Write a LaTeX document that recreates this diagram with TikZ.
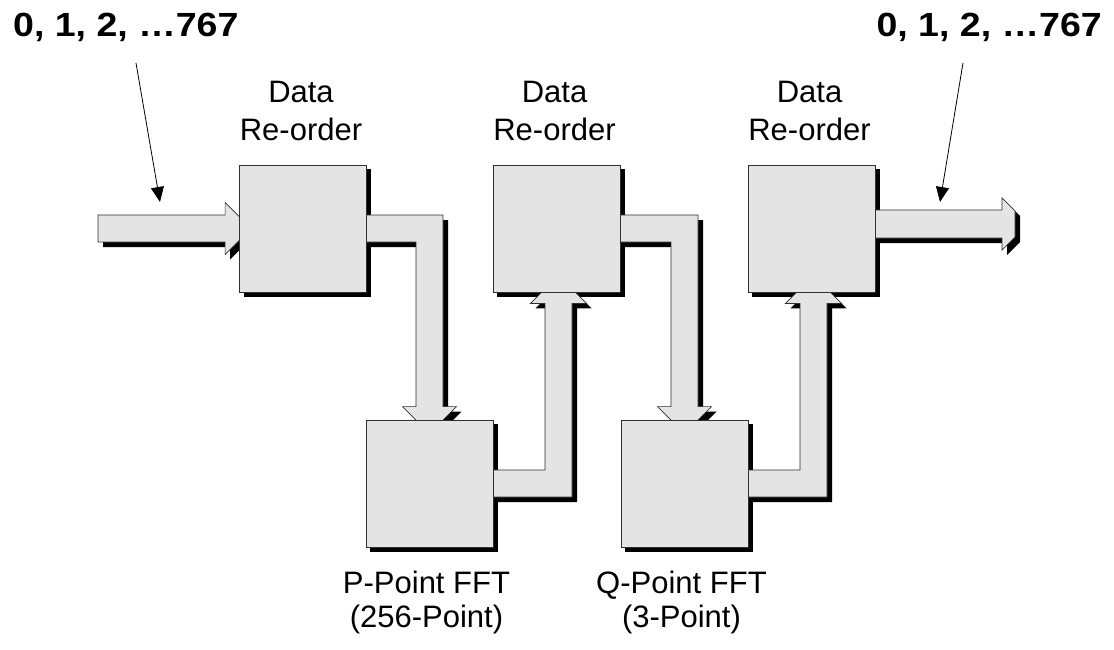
\documentclass[tikz,border=0pt]{standalone}
\usepackage{fontspec}
\setmainfont{Liberation Sans}
\usetikzlibrary{calc,arrows.meta}
\pgfdeclarelayer{shade}
\pgfdeclarelayer{flow}
\pgfsetlayers{shade,flow,main}
\definecolor{blockgray}{HTML}{E4E4E4}
\definecolor{edgegray}{HTML}{303030}

\tikzset{
  stage/.style={draw=edgegray, line width=0.8pt, fill=blockgray,
    minimum width=127pt, minimum height=127pt, inner sep=0pt},
  flowbody/.style={draw=edgegray, line width=0.7pt, fill=blockgray, line join=miter},
  caption/.style={font=\fontsize{31pt}{37pt}\selectfont, inner sep=0pt, anchor=base},
  seqlabel/.style={font=\fontsize{33.5pt}{40pt}\selectfont\bfseries, inner sep=0pt},
  pointer/.style={line width=0.8pt, -{Triangle[length=15pt,width=13pt]}},
}

% block arrow: black drop shadow on the lowest layer, grey body above it
\newcommand\flowarrow[1]{%
  \begin{pgfonlayer}{shade}
    \fill[black, transform canvas={shift={(5pt,-5pt)}}] #1;
  \end{pgfonlayer}
  \begin{pgfonlayer}{flow}
    \filldraw[flowbody] #1;
  \end{pgfonlayer}}
% drop shadow of a stage box
\newcommand\stageshadow[1]{%
  \begin{pgfonlayer}{shade}
    \fill[black, transform canvas={shift={(4.5pt,-4.5pt)}}] (#1.south west) rectangle (#1.north east);
  \end{pgfonlayer}}

\begin{document}
\begin{tikzpicture}[x=1pt, y=-1pt]
\path[use as bounding box] (0,0) rectangle (1114,650);

% processing stages
\node[stage] (b1) at (303,228.5) {};
\node[stage] (b2) at (556.5,228.5) {};
\node[stage] (b3) at (811.5,228.5) {};
\node[stage] (b4) at (429.5,483.5) {};
\node[stage] (b5) at (684.5,483.5) {};
\foreach \b in {b1,b2,b3,b4,b5} {\stageshadow{\b}}

% entry / exit points and the up-going columns
\coordinate (src) at (98,228.5);
\coordinate (dst) at (1015,224);
\coordinate (k2) at ($(b2.south)+(2,0)$);
\coordinate (k3) at ($(b3.south)+(2,0)$);

% input stream into the first re-order stage
\flowarrow{($(src)+(0,-13.5)$) -- ($(b1.west)+(-14,-13.5)$) -- ($(b1.west)+(-14,-26)$)
  -- ($(b1.west)+(12,0)$) -- ($(b1.west)+(-14,26)$) -- ($(b1.west)+(-14,13.5)$)
  -- ($(src)+(0,13.5)$) -- cycle}

% re-order -> P-point FFT
\flowarrow{($(b1.east)+(-2,-13.5)$) -- ($(b1.east -| b4.north)+(13.5,-13.5)$)
  -- ($(b4.north)+(13.5,-13)$) -- ($(b4.north)+(27,-13)$) -- ($(b4.north)+(0,14)$)
  -- ($(b4.north)+(-27,-13)$) -- ($(b4.north)+(-13.5,-13)$)
  -- ($(b1.east -| b4.north)+(-13.5,13.5)$) -- ($(b1.east)+(-2,13.5)$) -- cycle}

% P-point FFT -> re-order
\flowarrow{($(b4.east)+(-2,-13.5)$) -- ($(b4.east -| k2)+(-13.5,-13.5)$)
  -- ($(k2)+(-13.5,11)$) -- ($(k2)+(-28,11)$) -- ($(k2)+(0,-17)$)
  -- ($(k2)+(28,11)$) -- ($(k2)+(13.5,11)$)
  -- ($(b4.east -| k2)+(13.5,13.5)$) -- ($(b4.east)+(-2,13.5)$) -- cycle}

% re-order -> Q-point FFT
\flowarrow{($(b2.east)+(-2,-13.5)$) -- ($(b2.east -| b5.north)+(13.5,-13.5)$)
  -- ($(b5.north)+(13.5,-13)$) -- ($(b5.north)+(27,-13)$) -- ($(b5.north)+(0,14)$)
  -- ($(b5.north)+(-27,-13)$) -- ($(b5.north)+(-13.5,-13)$)
  -- ($(b2.east -| b5.north)+(-13.5,13.5)$) -- ($(b2.east)+(-2,13.5)$) -- cycle}

% Q-point FFT -> re-order
\flowarrow{($(b5.east)+(-2,-13.5)$) -- ($(b5.east -| k3)+(-13.5,-13.5)$)
  -- ($(k3)+(-13.5,11)$) -- ($(k3)+(-28,11)$) -- ($(k3)+(0,-17)$)
  -- ($(k3)+(28,11)$) -- ($(k3)+(13.5,11)$)
  -- ($(b5.east -| k3)+(13.5,13.5)$) -- ($(b5.east)+(-2,13.5)$) -- cycle}

% output stream
\flowarrow{($(b3.east |- dst)+(-2,-14)$) -- ($(dst)+(-13,-14)$) -- ($(dst)+(-13,-26)$)
  -- ($(dst)+(0,-13)$) -- ($(dst)+(0,13)$) -- ($(dst)+(-13,26)$)
  -- ($(dst)+(-13,14)$) -- ($(b3.east |- dst)+(-2,14)$) -- cycle}

% sequence labels and their pointers
\node[seqlabel, anchor=base west] (seqin) at (13,37) {\scalebox{1.12}[1]{0, 1, 2, …767}};
\node[seqlabel, anchor=base east] (seqout) at (1102,37) {\scalebox{1.12}[1]{0, 1, 2, …767}};
\coordinate (p1a) at (136,63);
\coordinate (p1b) at (160,202);
\coordinate (p2a) at (963,63);
\coordinate (p2b) at (940,202);
\draw[pointer] (p1a) -- (p1b);
\draw[pointer] (p2a) -- (p2b);

% stage captions
\node[caption] (cap1a) at (301,103) {Data};
\node[caption] (cap1b) at (301,141) {Re-order};
\node[caption] (cap2a) at (554.5,103) {Data};
\node[caption] (cap2b) at (554.5,141) {Re-order};
\node[caption] (cap3a) at (809.5,103) {Data};
\node[caption] (cap3b) at (809.5,141) {Re-order};
\node[caption] (cap4a) at (426.5,593) {P-Point FFT};
\node[caption] (cap4b) at (426.5,627) {(256-Point)};
\node[caption] (cap5a) at (681.5,593) {Q-Point FFT};
\node[caption] (cap5b) at (681.5,627) {(3-Point)};
\end{tikzpicture}
\end{document}
